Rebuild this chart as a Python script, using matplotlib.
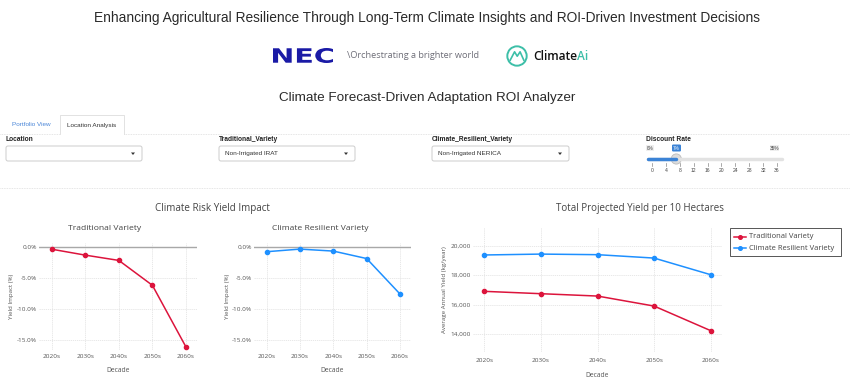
import matplotlib
matplotlib.use("Agg")
import matplotlib.pyplot as plt
from matplotlib.transforms import Affine2D
from matplotlib.patches import Rectangle, FancyBboxPatch, Circle, Polygon, PathPatch
from matplotlib.lines import Line2D
from matplotlib.textpath import TextPath
from matplotlib.font_manager import FontProperties

# ---------------- data ----------------
decades = ["2020s", "2030s", "2040s", "2050s", "2060s"]
trad_impact = [-0.4, -1.35, -2.2, -6.2, -16.1]
resil_impact = [-0.8, -0.38, -0.7, -1.9, -7.6]
trad_yield = [16900, 16740, 16580, 15900, 14230]
resil_yield = [19370, 19430, 19390, 19160, 18030]
impact_ticks = [0, -5, -10, -15]
yield_ticks = [14000, 16000, 18000, 20000]
slider_marks = [0, 4, 8, 12, 16, 20, 24, 28, 32, 36]
slider_value = 7

RED = "#dc143c"
BLUE = "#1e90ff"
GRID = "#e4e4e4"
TXT = "#444444"
W, H = 850, 384

fig = plt.figure(figsize=(W / 100, H / 100), dpi=100)
fig.patch.set_facecolor("white")
PX = Affine2D().scale(1 / W, -1 / H).translate(0, 1) + fig.transFigure

DASH = ["Liberation Sans", "DejaVu Sans"]
PLOT = ["Open Sans", "DejaVu Sans"]


def t(x, y, s, size, family=DASH, color="#222222", ha="left", va="center", **kw):
    fig.text(x, y, s, transform=PX, fontsize=size, family=family, color=color,
             ha=ha, va=va, **kw)


def ax_px(x0, y0, x1, y1):
    return fig.add_axes([x0 / W, 1 - y1 / H, (x1 - x0) / W, (y1 - y0) / H])


# ---------------- header ----------------
t(427, 18, "Enhancing Agricultural Resilience Through Long-Term Climate Insights and ROI-Driven Investment Decisions",
  9.9, ha="center", color="#2a2a2a")
# NEC logo (stretched bold letters)
tp = TextPath((0, 0), "NEC", size=1, prop=FontProperties(family="DejaVu Sans", weight="bold"))
bb = tp.get_extents()
tr = Affine2D().translate(-bb.x0, -bb.y0).scale(60 / bb.width, -15 / bb.height).translate(273, 63) + PX
fig.add_artist(PathPatch(tp, transform=tr, fc="#1a1aa6", ec="none"))
t(347, 55, "\\Orchestrating a brighter world", 6.6, family=["Open Sans"], color="#6e6e78")
# ClimateAi logo
lax = ax_px(506, 45, 528, 67)
lax.set_xlim(-1, 1); lax.set_ylim(-1, 1); lax.set_aspect("equal"); lax.axis("off")
lax.add_patch(Circle((0, 0), 0.88, fill=False, lw=1.4, ec="#3dbfa8"))
lax.plot([-0.62, -0.22, 0.02, 0.28, 0.62], [-0.38, 0.38, -0.02, 0.38, -0.38], color="#3dbfa8", lw=1.2)
t(577, 56, "Climate", 8.6, family=["Open Sans"], color="#111111", ha="right", weight="semibold")
t(577, 56, "Ai", 8.6, family=["Open Sans"], color="#3dbfa8", weight="semibold")

t(427, 98, "Climate Forecast-Driven Adaptation ROI Analyzer", 9.7, ha="center", color="#2a2a2a")

# ---------------- tabs ----------------
t(12, 125, "Portfolio View", 4.6, color="#4a86d8")
fig.add_artist(Line2D([60, 60, 124, 124], [134, 115, 115, 134], transform=PX, color="#dddddd", lw=0.6))
t(92, 125, "Location Analysis", 4.6, color="#333333", ha="center")
fig.add_artist(Line2D([0, 60], [134, 134], transform=PX, color="#dddddd", lw=0.6, ls=(0, (1, 1))))
fig.add_artist(Line2D([124, 850], [134, 134], transform=PX, color="#dddddd", lw=0.6, ls=(0, (1, 1))))

# ---------------- controls ----------------
labels = [(6, "Location"), (219, "Traditional_Variety"), (432, "Climate_Resilient_Variety"), (646, "Discount Rate")]
for x, s in labels:
    t(x, 139.5, s, 4.8, weight="bold", color="#222222")
dropdowns = [(6, 142, ""), (219, 355, "Non-Irrigated IRAT"), (432, 569, "Non-Irrigated NERICA")]
for x0, x1, s in dropdowns:
    fig.add_artist(FancyBboxPatch((x0, 146), x1 - x0, 15, boxstyle="round,pad=0,rounding_size=2",
                                  transform=PX, fc="white", ec="#cccccc", lw=0.7))
    if s:
        t(x0 + 6, 153.5, s, 4.6, color="#333333")
    cx = x1 - 9
    fig.add_artist(Polygon([[cx - 2, 152.5], [cx + 2, 152.5], [cx, 155]], closed=True,
                           transform=PX, fc="#333333", ec="none"))

# slider
sx0, sx1 = 652, 777


def sx(v):
    return sx0 + (sx1 - sx0) * v / slider_marks[-1]


fig.add_artist(Line2D([648, 782], [159, 159], transform=PX, color="#e2e2e2", lw=2.5, solid_capstyle="round"))
fig.add_artist(Line2D([648, sx(slider_value)], [159, 159], transform=PX, color="#3b83d6", lw=2.5,
                      solid_capstyle="round"))
for v in slider_marks:
    fig.add_artist(Line2D([sx(v), sx(v)], [163, 165.5], transform=PX, color="#888888", lw=0.5))
    t(sx(v), 170, str(v), 3.6, color="#444444", ha="center")
hax = ax_px(sx(slider_value) - 6, 153, sx(slider_value) + 6, 165)
hax.set_xlim(-1, 1); hax.set_ylim(-1, 1); hax.set_aspect("equal"); hax.axis("off")
hax.add_patch(Circle((0, 0), 0.85, fc="#dcdcdc", ec="#bbbbbb", lw=0.6))
fig.add_artist(Rectangle((646, 145), 8, 6, transform=PX, fc="#eeeeee", ec="none"))
t(650, 148, "0%", 3.4, color="#444444", ha="center")
fig.add_artist(Rectangle((770, 145), 9, 6, transform=PX, fc="#eeeeee", ec="none"))
t(774.5, 148, "35%", 3.4, color="#444444", ha="center")
fig.add_artist(FancyBboxPatch((672, 144.5), 9, 7, boxstyle="round,pad=0,rounding_size=1.2",
                              transform=PX, fc="#3b83d6", ec="none"))
t(676.5, 148, f"{slider_value}%", 3.4, color="white", ha="center")

fig.add_artist(Line2D([0, 850], [188, 188], transform=PX, color="#dddddd", lw=0.6, ls=(0, (1, 1))))

# ---------------- charts ----------------
t(212, 209, "Climate Risk Yield Impact", 7.1, family=PLOT, color=TXT, ha="center")
t(640, 209, "Total Projected Yield per 10 Hectares", 7.0, family=PLOT, color=TXT, ha="center")


def style(ax):
    for sp in ax.spines.values():
        sp.set_visible(False)
    ax.tick_params(length=0, labelsize=4.6, labelcolor="#555555", pad=1.5)
    for lab in ax.get_xticklabels() + ax.get_yticklabels():
        lab.set_family(PLOT)
    ax.grid(True, color=GRID, lw=0.6, ls=(0, (1.5, 1)))
    ax.set_axisbelow(True)


xs = list(range(len(decades)))
for (x0, x1, title, tcx, vals, col, ylx) in [(39, 197, "Traditional Variety", 105, trad_impact, RED, 12),
                                              (254, 411, "Climate Resilient Variety", 320, resil_impact, BLUE, 228)]:
    ax = ax_px(x0, 243, x1, 350)
    ax.set_xlim(-0.38, 4.33)
    ax.set_ylim(-16.6, 0.6)
    ax.axhline(0, color="#a8a8a8", lw=1.0, zorder=1)
    ax.plot(xs, vals, color=col, lw=1.1, marker="o", ms=3, zorder=3)
    ax.set_xticks(xs)
    ax.set_xticklabels(decades)
    ax.set_yticks(impact_ticks)
    ax.set_yticklabels([f"{v:.1f}%" for v in impact_ticks])
    style(ax)
    ax.tick_params(axis="x", pad=3)
    ax.set_xlabel("Decade", fontsize=4.9, family=PLOT, color="#555555", labelpad=6)
    t(tcx, 228.5, title, 6.1, family=PLOT, color=TXT, ha="center")
    t(ylx, 296, "Yield Impact (%)", 4.4, family=PLOT, color="#555555", ha="center", rotation=90)

ax = ax_px(473, 227, 722, 352)
ax.set_xlim(-0.2, 4.2)
ax.set_ylim(12780, 21270)
ax.plot(xs, trad_yield, color=RED, lw=1.1, marker="o", ms=3, zorder=3, label="Traditional Variety")
ax.plot(xs, resil_yield, color=BLUE, lw=1.1, marker="o", ms=3, zorder=3, label="Climate Resilient Variety")
ax.set_xticks(xs)
ax.set_xticklabels(decades)
ax.set_yticks(yield_ticks)
ax.set_yticklabels([f"{v:,}" for v in yield_ticks])
style(ax)
ax.tick_params(axis="x", pad=4)
ax.set_xlabel("Decade", fontsize=4.9, family=PLOT, color="#555555", labelpad=7)
t(445, 290, "Average Annual Yield (kg/year)", 4.4, family=PLOT, color="#555555", ha="center", rotation=90)

fig.add_artist(Rectangle((730, 228), 111, 28, transform=PX, fc="white", ec="#555555", lw=0.7))
for yy, col, lab in [(237, RED, "Traditional Variety"), (248, BLUE, "Climate Resilient Variety")]:
    fig.add_artist(Line2D([734, 746], [yy, yy], transform=PX, color=col, lw=1.1))
    fig.add_artist(Line2D([740], [yy], transform=PX, color=col, marker="o", ms=2.6))
    t(749, yy, lab, 5.5, family=PLOT, color=TXT)

fig.savefig("out.png", dpi=100, facecolor="white")
